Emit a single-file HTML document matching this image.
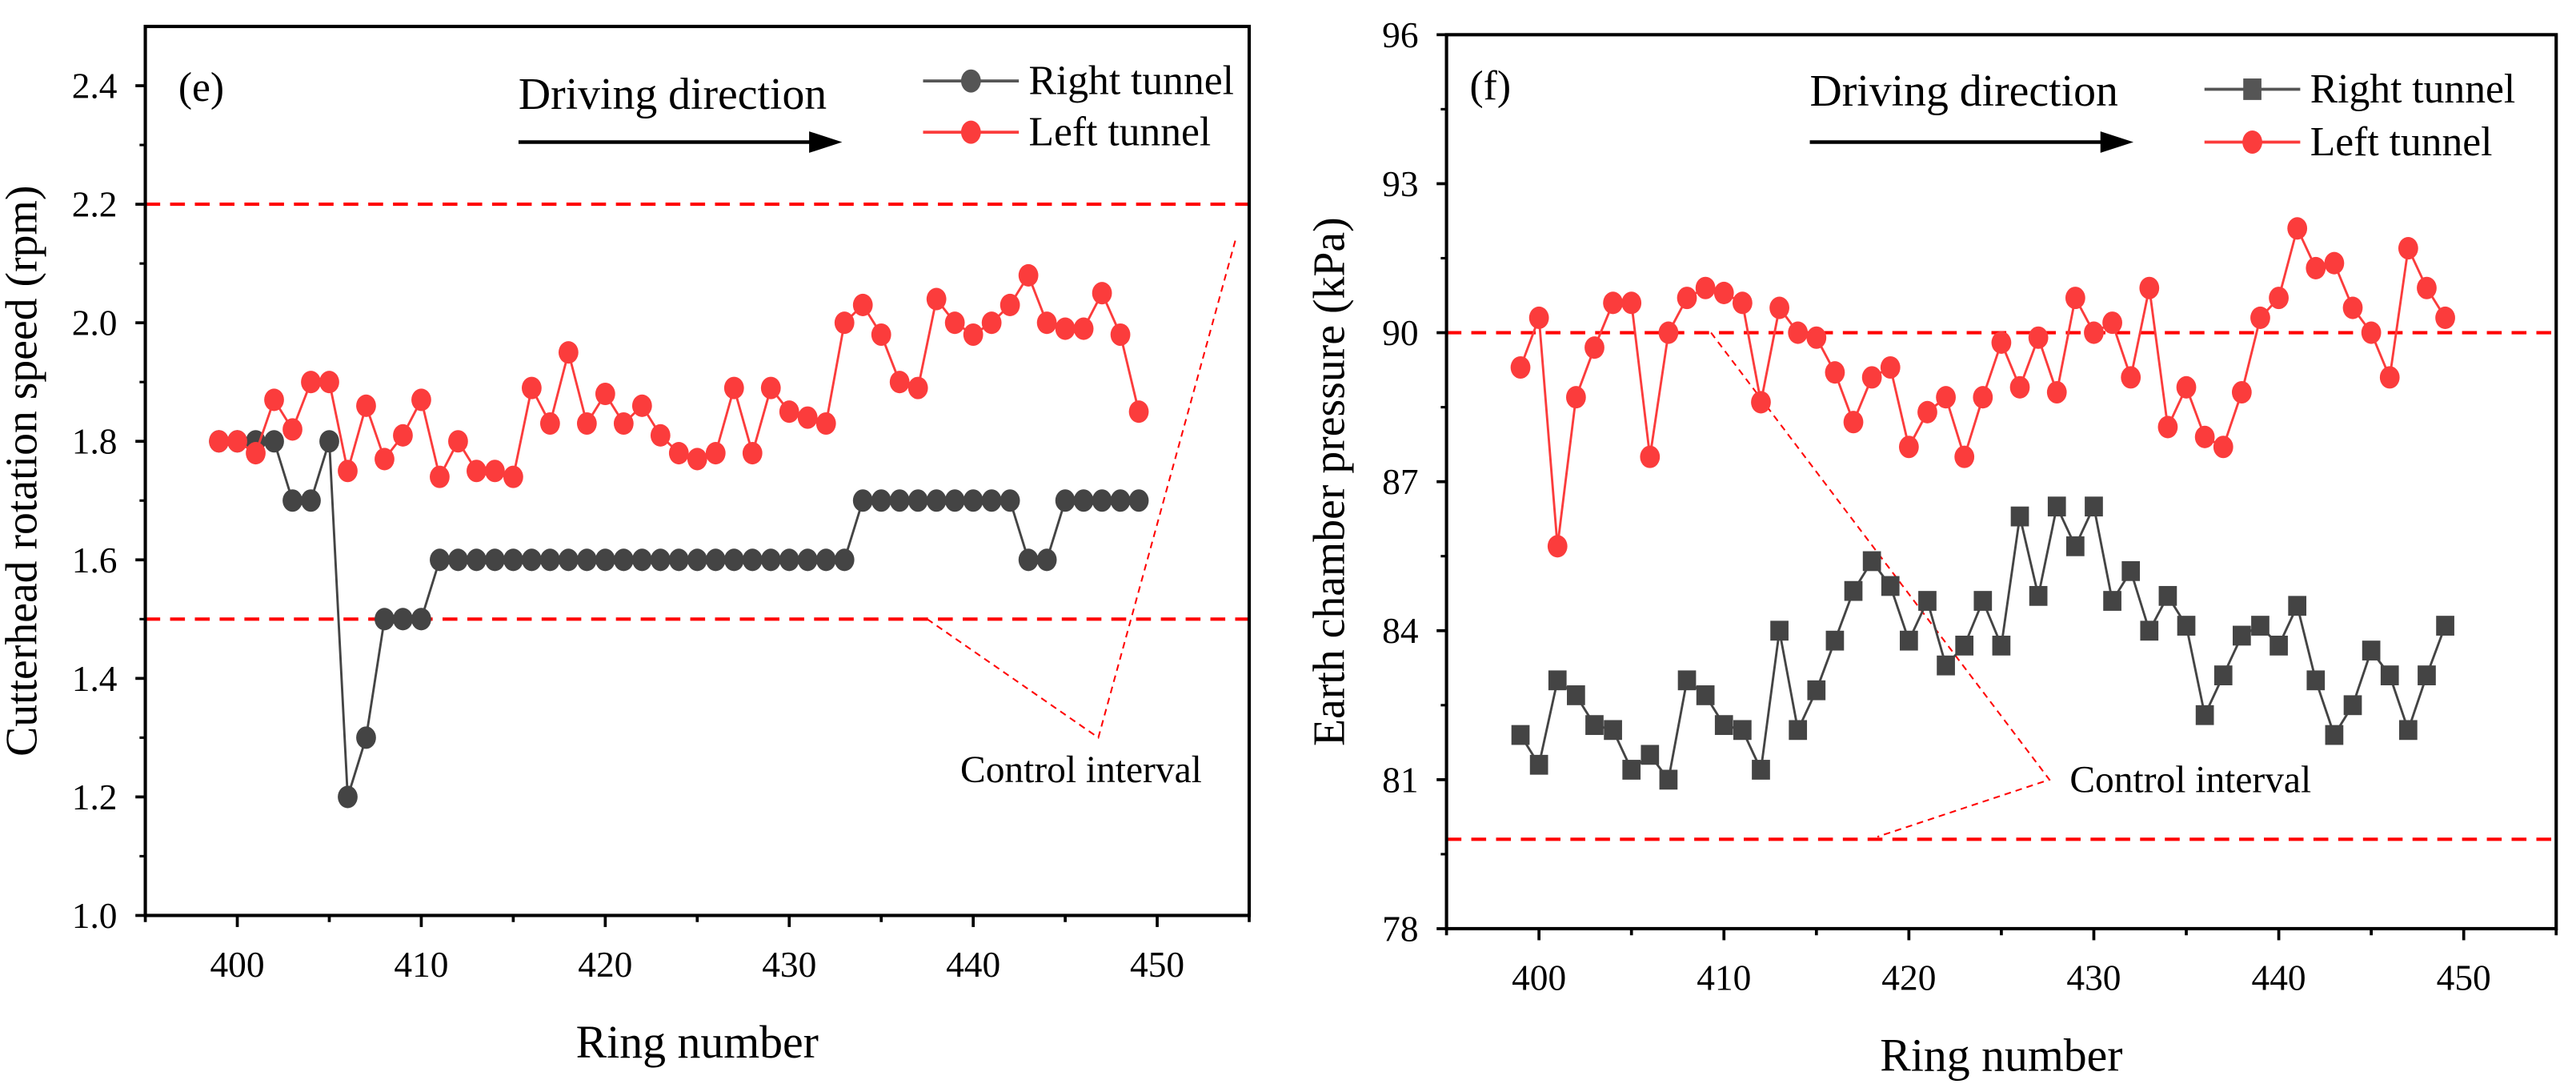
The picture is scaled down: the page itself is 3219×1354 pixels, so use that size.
<!DOCTYPE html>
<html><head><meta charset="utf-8"><style>html,body{margin:0;padding:0;background:#fff}svg{display:block}</style></head>
<body>
<svg id="c" width="3219" height="1354" viewBox="0 0 1560 656" preserveAspectRatio="none" font-family="'Liberation Serif', 'DejaVu Serif', serif" xmlns="http://www.w3.org/2000/svg"></svg>
<script>
const rings=[];for(let r=399;r<=449;r++)rings.push(r);
const eLeft=[1.80,1.80,1.78,1.87,1.82,1.90,1.90,1.75,1.86,1.77,1.81,1.87,1.74,1.80,1.75,1.75,1.74,1.89,1.83,1.95,1.83,1.88,1.83,1.86,1.81,1.78,1.77,1.78,1.89,1.78,1.89,1.85,1.84,1.83,2.00,2.03,1.98,1.90,1.89,2.04,2.00,1.98,2.00,2.03,2.08,2.00,1.99,1.99,2.05,1.98,1.85];
const eRight=[1.8,1.8,1.8,1.8,1.7,1.7,1.8,1.2,1.3,1.5,1.5,1.5,1.6,1.6,1.6,1.6,1.6,1.6,1.6,1.6,1.6,1.6,1.6,1.6,1.6,1.6,1.6,1.6,1.6,1.6,1.6,1.6,1.6,1.6,1.6,1.7,1.7,1.7,1.7,1.7,1.7,1.7,1.7,1.7,1.6,1.6,1.7,1.7,1.7,1.7,1.7];
const fLeft=[89.3,90.3,85.7,88.7,89.7,90.6,90.6,87.5,90.0,90.7,90.9,90.8,90.6,88.6,90.5,90.0,89.9,89.2,88.2,89.1,89.3,87.7,88.4,88.7,87.5,88.7,89.8,88.9,89.9,88.8,90.7,90.0,90.2,89.1,90.9,88.1,88.9,87.9,87.7,88.8,90.3,90.7,92.1,91.3,91.4,90.5,90.0,89.1,91.7,90.9,90.3];
const fRight=[81.9,81.3,83.0,82.7,82.1,82.0,81.2,81.5,81.0,83.0,82.7,82.1,82.0,81.2,84.0,82.0,82.8,83.8,84.8,85.4,84.9,83.8,84.6,83.3,83.7,84.6,83.7,86.3,84.7,86.5,85.7,86.5,84.6,85.2,84.0,84.7,84.1,82.3,83.1,83.9,84.1,83.7,84.5,83.0,81.9,82.5,83.6,83.1,82.0,83.1,84.1];
const eTicks=[1.0,1.2,1.4,1.6,1.8,2.0,2.2,2.4];
const fTicks=[78,81,84,87,90,93,96];
const xTicks=[400,410,420,430,440,450];
const eLimits=[1.5,2.2];const fLimits=[79.8,90];
const eAnn=[[437.5,1.5],[446.8,1.3],[454.3,2.145]];
const fAnn=[[409.3,90],[427.6,81.0],[418.3,79.85]];

const S=document.getElementById('c');const NS='http://www.w3.org/2000/svg';
function mk(tag,at,parent,txt){const e=document.createElementNS(NS,tag);for(const k in at)e.setAttribute(k,at[k]);if(txt!==undefined)e.textContent=txt;(parent||S).appendChild(e);return e;}

function panel(cfg){
  const g=mk('g',{});
  
  
  const X=v=>cfg.x0+(v-395)/(455-395)*(cfg.x1-cfg.x0);
  const Y=v=>cfg.y1-(v-cfg.ymin)/(cfg.ymax-cfg.ymin)*(cfg.y1-cfg.y0);
  cfg.yticks.forEach((t,i)=>{
    const yy=Y(t);mk('line',{x1:cfg.x0-6,x2:cfg.x0,y1:yy,y2:yy,stroke:'#000','stroke-width':1.8},g);
    const tl=mk('text',{x:cfg.x0-17,y:yy+7.5,'text-anchor':'end','font-size':22},g,cfg.yfmt(t));
    
    if(i<cfg.yticks.length-1){const m=Y((t+cfg.yticks[i+1])/2);mk('line',{x1:cfg.x0-3.5,x2:cfg.x0,y1:m,y2:m,stroke:'#000','stroke-width':1.5},g);}
  });
  for(let v=395;v<=455;v+=5){const xx=X(v);const major=v%10===0;
    mk('line',{x1:xx,x2:xx,y1:cfg.y1,y2:cfg.y1+(major?7:4),stroke:'#000','stroke-width':1.8},g);}
  xTicks.forEach(t=>{const tl=mk('text',{x:X(t),y:cfg.y1+37,'text-anchor':'middle','font-size':22},g,String(t));
    });
  const xt=mk('text',{x:(cfg.x0+cfg.x1)/2,y:cfg.y1+86,'text-anchor':'middle','font-size':28},g,'Ring number');
  
  const yt=mk('text',{x:0,y:0,'text-anchor':'middle','font-size':27,transform:`translate(${cfg.ytx},${(cfg.y0+cfg.y1)/2}) rotate(-90)`},g,cfg.ytitle);
  
  cfg.limits.forEach(l=>{const ln=mk('line',{x1:cfg.x0,x2:cfg.x1,y1:Y(l),y2:Y(l),stroke:'#f00','stroke-width':2,'stroke-dasharray':'9,6'},g);
    });
  const ann=mk('polyline',{points:cfg.ann.map(p=>X(p[0])+','+Y(p[1])).join(' '),fill:'none',stroke:'#f00','stroke-width':1,'stroke-dasharray':'4,3'},g);
  
  const at=mk('text',{x:X(cfg.annT[0]),y:Y(cfg.annT[1]),'font-size':23},g,'Control interval');
  
  function series(vals,color,shape,name){
    const sg=mk('g',{},g);
    mk('polyline',{points:vals.map((v,i)=>X(rings[i])+','+Y(v)).join(' '),fill:'none',stroke:color,'stroke-width':1.4},sg);
    vals.forEach((v,i)=>{let m;
      if(shape==='c')m=mk('ellipse',{cx:X(rings[i]),cy:Y(v),rx:6,ry:6.8,fill:color},sg);
      else m=mk('rect',{x:X(rings[i])-5.5,y:Y(v)-6,width:11,height:12,fill:color},sg);
      });
  }
  series(cfg.right,'#444',cfg.rshape,'right-tunnel-series');
  series(cfg.left,'#fb3c3c','c','left-tunnel-series');
  const box=mk('rect',{x:cfg.x0,y:cfg.y0,width:cfg.x1-cfg.x0,height:cfg.y1-cfg.y0,fill:'none',stroke:'#000','stroke-width':2},g);
  
  const pl=mk('text',{x:cfg.lab[0],y:cfg.lab[1],'font-size':25},g,cfg.label);
  
  const dd=mk('text',{x:cfg.dd[0],y:cfg.dd[1],'font-size':27},g,'Driving direction');
  
  mk('line',{x1:cfg.dd[0],x2:cfg.dd[0]+180,y1:86,y2:86,stroke:'#000','stroke-width':2.2},g);
  const ar=mk('polygon',{points:`${cfg.dd[0]+196},86 ${cfg.dd[0]+176},79.5 ${cfg.dd[0]+176},92.5`,fill:'#000'},g);
  
  [[cfg.legR,'#555',cfg.rshape,cfg.leg[1]],[cfg.legL,'#fb3c3c','c',cfg.leg[2]]].forEach(([t,c,sh,yy])=>{
    const lg=mk('g',{},g);
    const lx=cfg.leg[0];mk('line',{x1:lx,x2:lx+58,y1:yy,y2:yy,stroke:c,'stroke-width':1.8},lg);
    if(sh==='c')mk('ellipse',{cx:lx+29,cy:yy,rx:6,ry:7,fill:c},lg);else mk('rect',{x:lx+23.5,y:yy-6.5,width:11,height:13,fill:c},lg);
    mk('text',{x:lx+64,y:yy+8,'font-size':25},lg,t);});
}
panel({name:'panel-e-cutterhead-speed',x0:88,x1:756.5,y0:16,y1:554,ymin:1.0,ymax:2.5,yticks:eTicks,yfmt:t=>t.toFixed(1),
  ytx:22,ytitle:'Cutterhead rotation speed (rpm)',limits:eLimits,left:eLeft,right:eRight,rshape:'c',
  ann:eAnn,annT:[439.3,1.225],lab:[108,61],label:'(e)',dd:[314,66],leg:[559,49,80],legR:'Right tunnel',legL:'Left tunnel'});
panel({name:'panel-f-earth-pressure',x0:876,x1:1548,y0:21,y1:562,ymin:78,ymax:96,yticks:fTicks,yfmt:t=>String(t),
  ytx:814,ytitle:'Earth chamber pressure (kPa)',limits:fLimits,left:fLeft,right:fRight,rshape:'s',
  ann:fAnn,annT:[428.7,80.75],lab:[890,60],label:'(f)',dd:[1096,64],leg:[1335,54,86],legR:'Right tunnel',legL:'Left  tunnel'});
</script>
</body></html>
